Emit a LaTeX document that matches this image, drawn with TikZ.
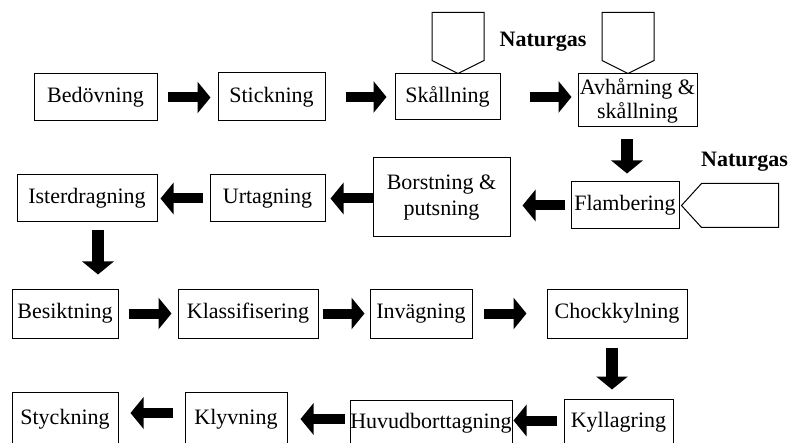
\documentclass[tikz,border=0pt]{standalone}
\usepackage{fontspec}
\setmainfont{Liberation Serif}
\usetikzlibrary{calc,arrows.meta}

\begin{document}
\begin{tikzpicture}[x=1pt,y=-1pt,
    box/.style={draw,line width=1pt,rectangle,inner sep=0pt,align=center,
                font=\fontsize{22}{24}\selectfont},
    flow/.style={line width=10pt,-{Triangle[length=13pt,width=31pt]}},
    gas/.style={draw,line width=1pt,line join=miter},
    gaslabel/.style={font=\fontsize{22}{24}\selectfont\bfseries}]
  \path[use as bounding box,clip] (0,0) rectangle (791,443);

  % row 1
  \node[box,minimum width=123pt,minimum height=47pt] (bed) at (95.5,97.5) {Bedövning};
  \node[box,minimum width=107pt,minimum height=48pt] (stick) at (271.5,97) {Stickning};
  \node[box,minimum width=105pt,minimum height=46pt] (skal) at (447.5,97) {Skållning};
  \node[box,minimum width=119pt,minimum height=53pt] (avh) at (637.5,100.5) {Avhårning \&\\skållning};

  % row 2
  \node[box,minimum width=108pt,minimum height=47pt] (flam) at (625,205.5) {Flambering};
  \node[box,minimum width=137pt,minimum height=79pt,font=\fontsize{22}{26}\selectfont]
    (bor) at (441.5,197.5) {Borstning \&\\putsning};
  \node[box,minimum width=115pt,minimum height=47pt] (urt) at (267.5,198.5) {Urtagning};
  \node[box,minimum width=140pt,minimum height=47pt] (ist) at (87,198.5) {Isterdragning};

  % row 3
  \node[box,minimum width=106pt,minimum height=49pt] (bes) at (65,313.5) {Besiktning};
  \node[box,minimum width=140pt,minimum height=49pt] (kla) at (248,313.5) {Klassifisering};
  \node[box,minimum width=102pt,minimum height=49pt] (inv) at (421,313.5) {Invägning};
  \node[box,minimum width=140pt,minimum height=49pt] (chock) at (617,313.5) {Chockkylning};

  % row 4
  \node[box,minimum width=106pt,minimum height=54pt] (sty) at (65,419) {Styckning};
  \node[box,minimum width=102pt,minimum height=54pt] (kly) at (236,419) {Klyvning};
  \node[box,minimum width=162pt,minimum height=46pt] (huv) at (431,423) {Huvudborttagning};
  \node[box,minimum width=109pt,minimum height=47pt] (kyl) at (618.5,422.5) {Kyllagring};

  % natural gas inputs
  \coordinate (gasA) at ($(skal.north)+(10.5,0)$);
  \coordinate (gasB) at ($(avh.north)+(-9.5,0)$);
  \coordinate (gasC) at ($(flam.east)+(2,0)$);
  \draw[gas] (gasA) -- ++(-26,-13) -- ++(0,-48) -- ++(52,0) -- ++(0,48) -- cycle;
  \draw[gas] (gasB) -- ++(-26,-13) -- ++(0,-48) -- ++(52,0) -- ++(0,48) -- cycle;
  \draw[gas] (gasC) -- ++(20,-22) -- ++(77,0) -- ++(0,44) -- ++(-77,0) -- cycle;
  \node[gaslabel] (ngA) at (543,42) {Naturgas};
  \node[gaslabel] (ngB) at (744.5,162) {Naturgas};

  % flow arrows
  \draw[flow] ($(bed.east)+(10,0)$) -- ($(bed.east -| stick.west)+(-7,0)$);
  \draw[flow] ($(stick.east)+(20,0)$) -- ($(stick.east -| skal.west)+(-8,0)$);
  \draw[flow] ($(skal.east)+(29,0)$) -- ($(skal.east -| avh.west)+(-6,0)$);
  \draw[flow,line width=12pt] ($(avh.south -| flam.north)+(2,12)$) -- ($(flam.north)+(2,-8)$);
  \draw[flow] ($(flam.west)+(-6,0)$) -- ($(flam.west -| bor.east)+(12,0)$);
  \draw[flow] (urt.east -| bor.west) -- ($(urt.east)+(5,0)$);
  \draw[flow] ($(urt.west)+(-7,0)$) -- ($(ist.east)+(3,0)$);
  \draw[flow,line width=12pt] ($(ist.south)+(11,8)$) -- ($(bes.north -| ist.south)+(11,-14)$);
  \draw[flow] ($(bes.east)+(10,0)$) -- ($(bes.east -| kla.west)+(-6,0)$);
  \draw[flow] ($(kla.east)+(4,0)$) -- ($(kla.east -| inv.west)+(-5,0)$);
  \draw[flow] ($(inv.east)+(11,0)$) -- ($(inv.east -| chock.west)+(-20,0)$);
  \draw[flow,line width=12pt] ($(chock.south)+(-5,9)$) -- ($(kyl.north -| chock.south)+(-5,-9)$);
  \draw[flow] ($(kly.west)+(-12,-6)$) -- ($(sty.east)+(12,-6)$);
  \draw[flow] ($(huv.west)+(-5,-4)$) -- ($(huv.west -| kly.east)+(13,-4)$);
  \draw[flow] ($(kyl.west)+(-7,-2)$) -- ($(kyl.west -| huv.east)+(1,-2)$);
\end{tikzpicture}
\end{document}
